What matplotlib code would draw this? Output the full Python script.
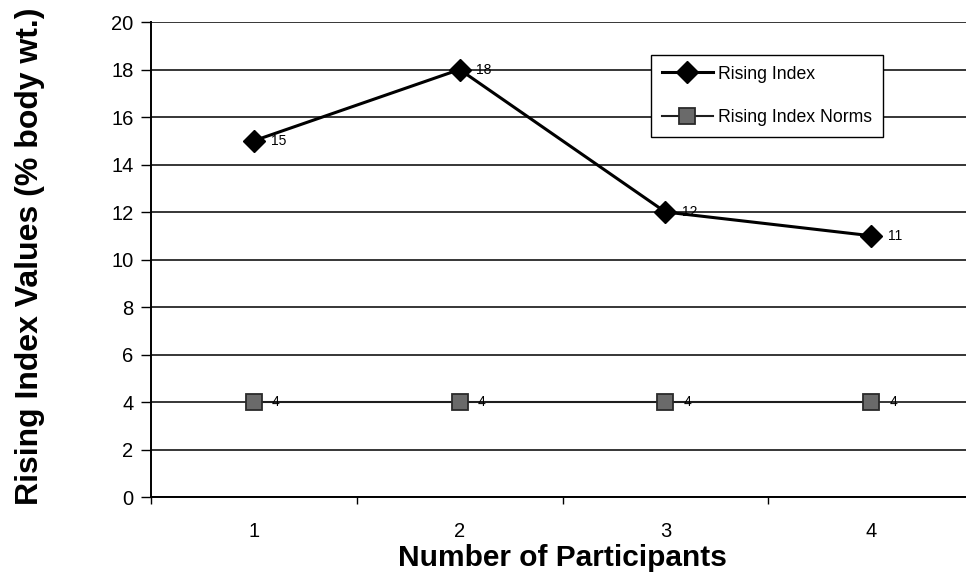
import matplotlib.pyplot as plt
from matplotlib.ticker import FixedLocator

plt.rcParams["font.family"] = ["Liberation Sans", "DejaVu Sans"]

participants = [1, 2, 3, 4]
rising_index = [15, 18, 12, 11]
rising_index_norms = [4, 4, 4, 4]
y_ticks = list(range(0, 21, 2))

fig = plt.figure(figsize=(9.66, 5.79), dpi=100)
ax = fig.add_axes([0.1563, 0.1416, 0.852, 0.8204])

ax.plot(participants, rising_index, color="black", linewidth=2.2,
        marker="D", markersize=11, markerfacecolor="black",
        markeredgecolor="black", label="Rising Index", zorder=4)
ax.plot(participants, rising_index_norms, color="#1e1e1e", linewidth=1.5,
        marker="s", markersize=11, markerfacecolor="#6a6a6a",
        markeredgecolor="#2a2a2a", markeredgewidth=1.3,
        label="Rising Index Norms", zorder=3)

# value labels to the right of each point
for x, y in zip(participants, rising_index):
    ax.annotate(str(y), (x, y), xytext=(12, 0), textcoords="offset points",
                va="center", ha="left", fontsize=10)
for x, y in zip(participants, rising_index_norms):
    ax.annotate(str(y), (x, y), xytext=(13, 0), textcoords="offset points",
                va="center", ha="left", fontsize=10)

ax.set_xlim(0.5, 4.5)
ax.set_ylim(0, 20)
ax.set_yticks(y_ticks)
ax.set_xticks(participants)
ax.xaxis.set_minor_locator(FixedLocator([0.5, 1.5, 2.5, 3.5, 4.5]))
ax.tick_params(axis="x", which="major", length=0, labelsize=14.5, pad=18)
ax.tick_params(axis="x", which="minor", length=5, width=1, direction="out")
ax.tick_params(axis="y", length=7.5, width=1, direction="out", labelsize=14.5, pad=5)

ax.grid(axis="y", color="black", linewidth=1.1)
ax.set_axisbelow(True)
for side in ["top", "right"]:
    ax.spines[side].set_visible(False)
ax.spines["left"].set_linewidth(1.4)
ax.spines["bottom"].set_linewidth(1.4)

ax.set_xlabel("Number of Participants", fontsize=21.5, fontweight="bold", labelpad=2)
ax.set_ylabel("Rising Index Values (% body wt.)", fontsize=23, fontweight="bold")
ax.yaxis.set_label_coords(-0.1286, 0.506)

leg = ax.legend(loc="upper left", bbox_to_anchor=(0.6075, 0.9305), fontsize=12.7,
                frameon=True, fancybox=False, edgecolor="black",
                handlelength=2.9, handletextpad=0.3, labelspacing=1.5,
                borderpad=0.6, borderaxespad=0)
leg.get_frame().set_linewidth(1.0)
leg.get_frame().set_alpha(1)

fig.savefig("out.png", dpi=100)
